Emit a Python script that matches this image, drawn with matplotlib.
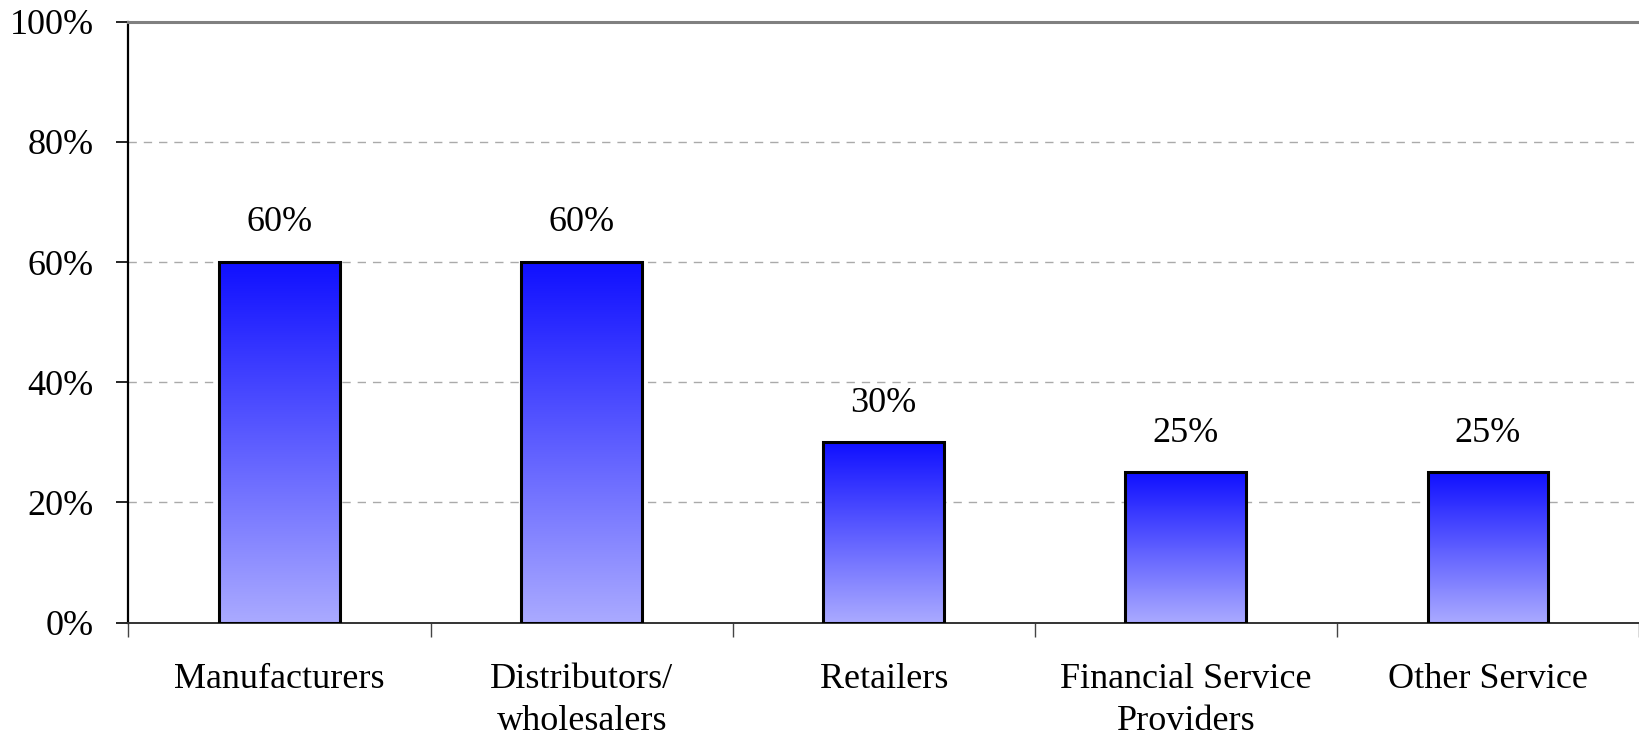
import matplotlib
matplotlib.use("Agg")
import matplotlib.pyplot as plt
import numpy as np
from matplotlib.colors import LinearSegmentedColormap

categories = ["Manufacturers", "Distributors/\nwholesalers", "Retailers",
              "Financial Service\nProviders", "Other Service"]
values = [60, 60, 30, 25, 25]
value_labels = ["60%", "60%", "30%", "25%", "25%"]
yticks = [0, 20, 40, 60, 80, 100]
ytick_labels = ["0%", "20%", "40%", "60%", "80%", "100%"]

plt.rcParams['font.family'] = ['Liberation Serif', 'DejaVu Serif']

fig = plt.figure(figsize=(16.39, 7.42), dpi=100)
ax = fig.add_axes([0.0784, 0.1608, 0.9216, 0.81])

cmap = LinearSegmentedColormap.from_list("g", ["#AAAAFF", "#1010FF"])
grad = np.linspace(0, 1, 256).reshape(-1, 1)
width = 0.4
x = np.arange(len(categories))
for xi, v in zip(x, values):
    ax.imshow(grad, cmap=cmap, origin="lower", aspect="auto",
              extent=[xi - width / 2, xi + width / 2, 0, v], zorder=3)
ax.bar(x, values, width=width, facecolor="none", edgecolor="black",
       linewidth=2.2, zorder=4)
for xi, v, lab in zip(x, values, value_labels):
    ax.text(xi, v + 3.8, lab, ha="center", va="bottom", fontsize=26, zorder=5)

ax.set_xlim(-0.5, len(categories) - 0.5)
ax.set_ylim(0, 100)
ax.set_yticks(yticks)
ax.set_yticklabels(ytick_labels, fontsize=26)
ax.tick_params(axis="y", direction="out", length=9, width=1.2, pad=16)
ax.set_xticks(x)
ax.set_xticklabels(categories, fontsize=26, linespacing=1.35)
ax.tick_params(axis="x", which="major", length=0, pad=29)
ax.set_xticks(np.arange(-0.5, len(categories), 1.0), minor=True)
ax.tick_params(axis="x", which="minor", direction="out", length=10, width=1.0, color="#444444")

for yv in yticks[1:-1]:
    ax.axhline(yv, color="#aaaaaa", linestyle=(0, (6, 5)), linewidth=1.0, zorder=1)

ax.spines["left"].set_color("black")
ax.spines["left"].set_linewidth(1.6)
ax.spines["bottom"].set_color("#333333")
ax.spines["bottom"].set_linewidth(1.4)
ax.spines["top"].set_color("#808080")
ax.spines["top"].set_linewidth(2.2)
ax.spines["right"].set_visible(False)

fig.savefig("out.png", dpi=100)
